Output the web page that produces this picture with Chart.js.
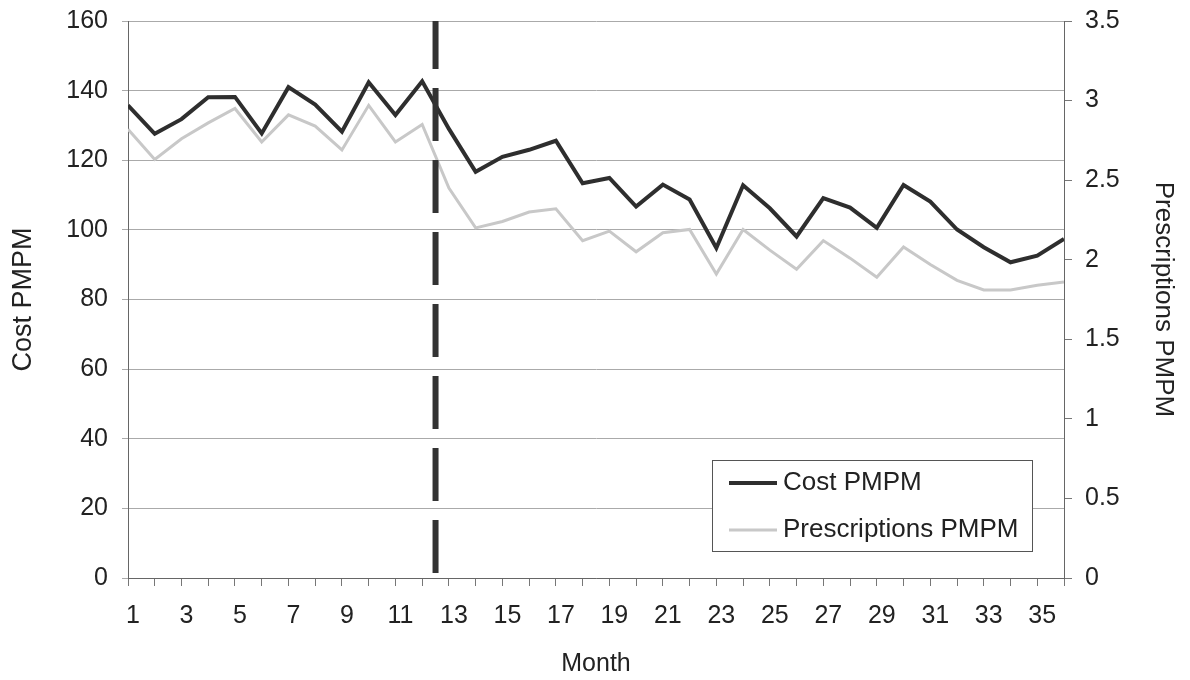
<!DOCTYPE html>
<html>
<head>
<meta charset="utf-8">
<script src="https://cdn.jsdelivr.net/npm/chart.js@4.4.0/dist/chart.umd.min.js"></script>
<style>
body{margin:0;background:#fff}
</style>
</head>
<body>
<canvas id="myChart" width="1190" height="680"></canvas>
<script>
var months = [1,2,3,4,5,6,7,8,9,10,11,12,13,14,15,16,17,18,19,20,21,22,23,24,25,26,27,28,29,30,31,32,33,34,35,36];
var costPmpm = [135.8,127.6,131.8,138.1,138.2,127.7,141.0,136.0,128.2,142.4,133.0,142.7,129.0,116.7,121.0,123.0,125.6,113.4,114.9,106.7,113.0,108.7,94.8,112.8,106.2,98.1,109.1,106.4,100.6,112.9,108.1,100.1,95.0,90.7,92.6,97.4];
var prescriptionsPmpm = [2.82,2.63,2.76,2.86,2.95,2.74,2.91,2.84,2.69,2.97,2.74,2.85,2.45,2.20,2.24,2.30,2.32,2.12,2.18,2.05,2.17,2.19,1.91,2.19,2.06,1.94,2.12,2.01,1.89,2.08,1.97,1.87,1.81,1.81,1.84,1.86];
var interventionX = [12.5,12.5];
var interventionY = [160,0];

var fontFamily = '"Liberation Sans", Arial, sans-serif';
var textColor = '#222';

function toPoints(xs, ys){
    var pts = [];
    for(let i = 0; i < xs.length; i++){
        pts.push({x: xs[i], y: ys[i]});
    }
    return pts;
}

// fixed axis sizes so the plot area sits where the original does
function fixWidth(w){
    return function(scale){
        scale.width = w;
        scale.paddingTop = 0;
        scale.paddingBottom = 0;
    };
}

// legend box drawn inside the plot, like the original
var boxLegend = {
    id: 'boxLegend',
    afterDraw: function(chart){
        var ctx = chart.ctx;
        var items = chart.data.datasets.filter(function(d){ return d.label; });
        var x = 712, y = 460, w = 320, h = 91;
        ctx.save();
        ctx.fillStyle = '#fff';
        ctx.fillRect(x, y, w, h);
        ctx.strokeStyle = '#555';
        ctx.lineWidth = 1;
        ctx.strokeRect(x + 0.5, y + 0.5, w, h);
        ctx.font = '26px ' + fontFamily;
        ctx.textBaseline = 'middle';
        items.forEach(function(d, i){
            var cy = y + 23 + i * 47;
            ctx.strokeStyle = d.borderColor;
            ctx.lineWidth = d.borderWidth;
            ctx.beginPath();
            ctx.moveTo(x + 17, cy);
            ctx.lineTo(x + 65, cy);
            ctx.stroke();
            ctx.fillStyle = textColor;
            ctx.fillText(d.label, x + 71, cy);
        });
        ctx.restore();
    }
};

var ctx = document.getElementById('myChart');
var myChart = new Chart(ctx, {
    type: 'line',
    data: {
        datasets: [{
            label: 'Cost PMPM',
            data: toPoints(months, costPmpm),
            yAxisID: 'y',
            borderColor: '#2e2e2e',
            borderWidth: 4,
            pointRadius: 0,
            order: 1
        }, {
            label: 'Prescriptions PMPM',
            data: toPoints(months, prescriptionsPmpm),
            yAxisID: 'y1',
            borderColor: '#c8c8c8',
            borderWidth: 3,
            pointRadius: 0,
            order: 2
        }, {
            label: '',
            data: toPoints(interventionX, interventionY),
            yAxisID: 'y',
            borderColor: '#333',
            borderWidth: 6,
            borderDash: [53, 19],
            borderDashOffset: 5,
            pointRadius: 0,
            order: 0
        }]
    },
    options: {
        responsive: false,
        animation: false,
        layout: { padding: { top: 21, left: 0, right: 0, bottom: 0 } },
        plugins: {
            legend: { display: false },
            tooltip: { enabled: false }
        },
        elements: { line: { tension: 0 } },
        scales: {
            x: {
                type: 'linear',
                min: 1,
                max: 36,
                afterBuildTicks: function(scale){
                    scale.ticks = months.map(function(m){ return {value: m}; });
                },
                afterFit: function(scale){ scale.height = 102; },
                ticks: {
                    autoSkip: false,
                    maxRotation: 0,
                    labelOffset: 5,
                    padding: 15,
                    color: textColor,
                    font: { family: fontFamily, size: 25 },
                    callback: function(v){ return v % 2 ? String(v) : ''; }
                },
                grid: { drawOnChartArea: false, tickLength: 8, color: '#777' },
                border: { color: '#666' },
                title: {
                    display: true,
                    text: 'Month',
                    color: textColor,
                    font: { family: fontFamily, size: 25 },
                    padding: { top: 0, bottom: 1 }
                }
            },
            y: {
                position: 'left',
                min: 0,
                max: 160,
                afterFit: fixWidth(128),
                ticks: {
                    stepSize: 20,
                    padding: 14,
                    color: textColor,
                    font: { family: fontFamily, size: 25 }
                },
                grid: { color: '#aaa', tickLength: 6 },
                border: { color: '#666' },
                title: {
                    display: true,
                    text: 'Cost PMPM',
                    color: textColor,
                    font: { family: fontFamily, size: 27 },
                    padding: { top: 7, bottom: 0 }
                }
            },
            y1: {
                position: 'right',
                min: 0,
                max: 3.5,
                afterFit: fixWidth(126),
                ticks: {
                    stepSize: 0.5,
                    padding: 13,
                    color: textColor,
                    font: { family: fontFamily, size: 25 },
                    callback: function(v){ return String(v); }
                },
                grid: { drawOnChartArea: false, tickLength: 8, color: '#777' },
                border: { color: '#666' },
                title: {
                    display: true,
                    text: 'Prescriptions PMPM',
                    color: textColor,
                    font: { family: fontFamily, size: 26 },
                    padding: { top: 11, bottom: 0 }
                }
            }
        }
    },
    plugins: [boxLegend]
});
</script>
</body>
</html>
